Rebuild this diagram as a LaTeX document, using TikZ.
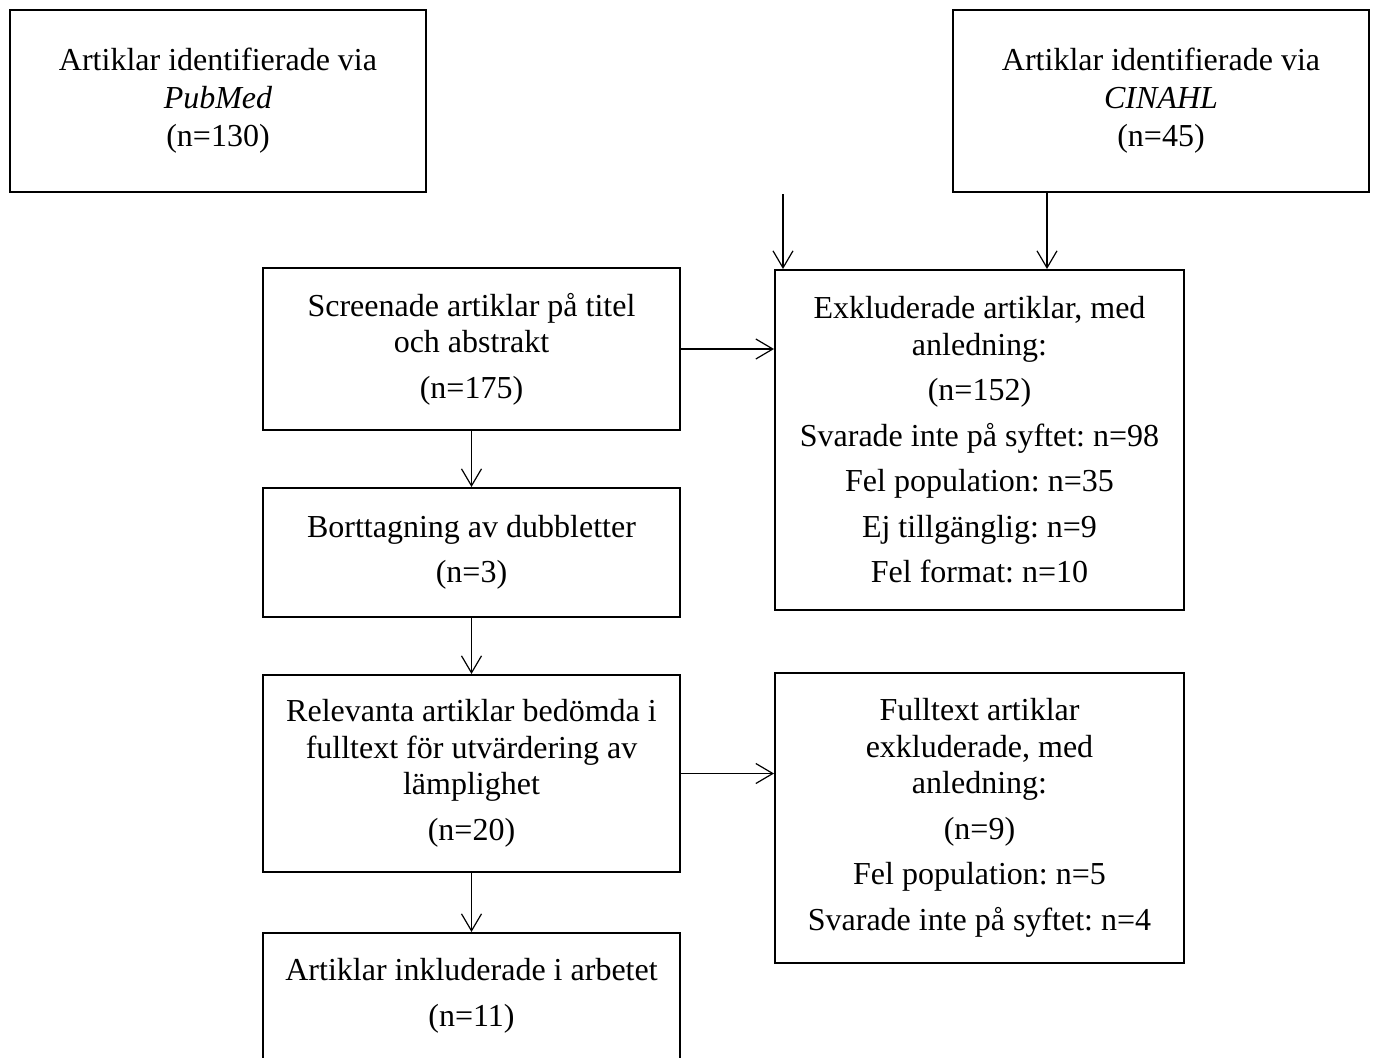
\documentclass[tikz,border=0pt]{standalone}
\usepackage{fontspec}
\setmainfont{Liberation Serif}
\usetikzlibrary{arrows.meta}
\newcommand{\boxfont}{\fontsize{16}{18.25}\selectfont\frenchspacing}
\tikzset{
  flowbox/.style={draw, line width=1pt, rectangle, inner sep=0pt, align=center, font=\boxfont},
  flowarrow/.style={line width=0.6pt, -{Straight Barb[length=8.5pt,width=10pt,line width=0.6pt]}}
}
\begin{document}
\begin{tikzpicture}[x=0.5pt,y=-0.5pt]
\useasboundingbox (0,0) rectangle (1373,1057);
\begin{scope}
\clip (0,0) rectangle (1373,1057);
\node[flowbox, minimum width=208pt, minimum height=91pt] (pub) at (218,101)
  {Artiklar identifierade via\\[0.8pt] \textit{PubMed}\\[0.8pt] (n=130)};
\node[flowbox, minimum width=208pt, minimum height=91pt] (cin) at (1161,101)
  {Artiklar identifierade via\\[0.8pt] \textit{CINAHL}\\[0.8pt] (n=45)};
\node[flowbox, minimum width=208.5pt, minimum height=81pt] (scr) at (471.5,349)
  {Screenade artiklar på titel\\ och abstrakt\\[4.5pt] (n=175)};
\node[flowbox, minimum width=204.5pt, minimum height=170pt] (exk) at (979.5,440)
  {Exkluderade artiklar, med\\ anledning:\\[4.5pt] (n=152)\\[4.5pt] Svarade inte på syftet: n=98\\[4.5pt] Fel population: n=35\\[4.5pt] Ej tillgänglig: n=9\\[4.5pt] Fel format: n=10};
\node[flowbox, minimum width=208.5pt, minimum height=64.5pt] (bor) at (471.5,552.5)
  {Borttagning av dubbletter\\[4.5pt] (n=3)};
\node[flowbox, minimum width=208.5pt, minimum height=98.5pt] (rel) at (471.5,773.5)
  {Relevanta artiklar bedömda i\\ fulltext för utvärdering av\\ lämplighet\\[4.5pt] (n=20)};
\node[flowbox, minimum width=204.5pt, minimum height=145pt] (ful) at (979.5,818)
  {Fulltext artiklar\\ exkluderade, med\\ anledning:\\[4.5pt] (n=9)\\[4.5pt] Fel population: n=5\\[4.5pt] Svarade inte på syftet: n=4};
\node[flowbox, minimum width=208.5pt, minimum height=63pt] (inc) at (471.5,996)
  {Artiklar inkluderade i arbetet\\[4.5pt] (n=11)};
\end{scope}
\coordinate (free) at (783,194);
\draw[flowarrow] (scr.east) -- (scr.east -| exk.west);
\draw[flowarrow] (scr.south) -- (bor.north);
\draw[flowarrow] (bor.south) -- (rel.north);
\draw[flowarrow] (rel.east) -- (rel.east -| ful.west);
\draw[flowarrow] (rel.south) -- (inc.north);
\draw[flowarrow] ([xshift=-57pt]cin.south) -- ([xshift=-57pt]cin.south |- exk.north);
\draw[flowarrow] (free) -- (free |- exk.north);
\end{tikzpicture}
\end{document}
